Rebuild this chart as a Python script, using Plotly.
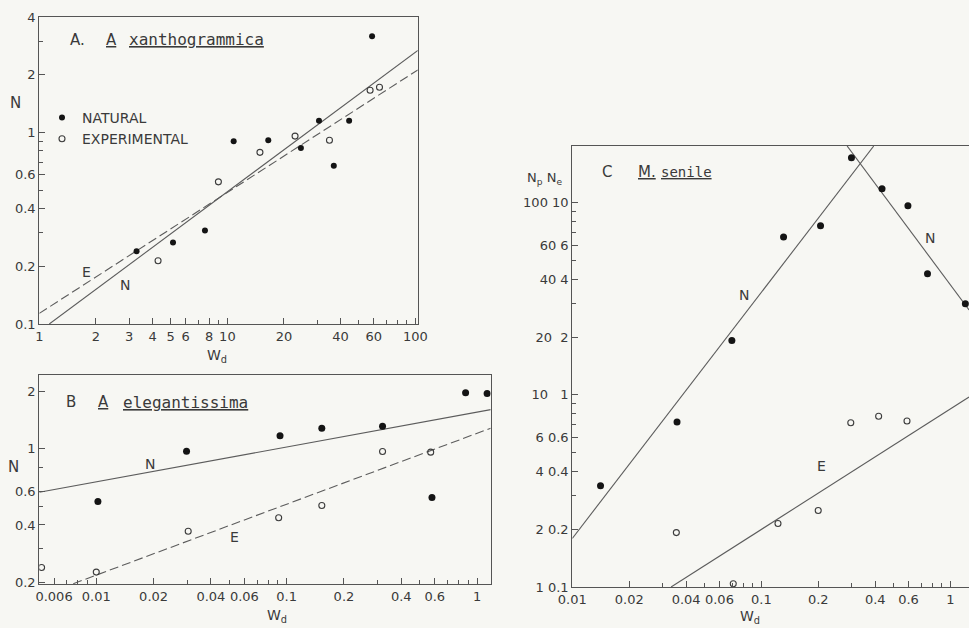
import numpy as np
import plotly.graph_objects as go

W, H = 969, 628

# ---------------- Panel A : A. xanthogrammica ----------------
a_nat_x = [3.29, 5.14, 7.6, 10.8, 16.5, 24.6, 30.7, 36.8, 44.4, 58.8]
a_nat_y = [0.24, 0.266, 0.308, 0.90, 0.91, 0.83, 1.15, 0.67, 1.15, 3.18]
a_exp_x = [4.28, 8.96, 14.9, 22.9, 34.9, 57.4, 64.4]
a_exp_y = [0.214, 0.552, 0.787, 0.957, 0.91, 1.66, 1.72]
a_fitN_x = [1.13, 103.0]
a_fitN_y = [0.1, 2.68]
a_fitE_x = [1.0, 103.0]
a_fitE_y = [0.1136, 2.12]
a_xticks = [1, 2, 3, 4, 5, 6, 8, 10, 20, 40, 60, 100]
a_xticktext = ["1", "2", "3", "4", "5", "6", "8", "10", "20", "40", "60", "100"]
a_xminor = [7, 9, 30, 50, 70, 80, 90]
a_yticks = [0.1, 0.2, 0.4, 0.6, 1, 2, 4]
a_yticktext = ["0.1", "0.2", "0.4", "0.6", "1", "2", "4"]
a_yminor = [0.3, 0.5, 0.7, 0.8, 0.9, 3]

# ---------------- Panel B : A. elegantissima ----------------
b_nat_x = [0.0102, 0.0298, 0.0923, 0.153, 0.319, 0.58, 0.871, 1.13]
b_nat_y = [0.53, 0.97, 1.17, 1.28, 1.31, 0.556, 1.96, 1.94]
b_exp_x = [0.00516, 0.01, 0.0304, 0.0908, 0.153, 0.319, 0.571]
b_exp_y = [0.24, 0.227, 0.371, 0.436, 0.506, 0.968, 0.96]
b_fitN_x = [0.00502, 1.18]
b_fitN_y = [0.593, 1.60]
b_fitE_x = [0.00757, 1.18]
b_fitE_y = [0.1975, 1.28]
b_xticks = [0.006, 0.01, 0.02, 0.04, 0.06, 0.1, 0.2, 0.4, 0.6, 1]
b_xticktext = ["0.006", "0.01", "0.02", "0.04", "0.06", "0.1", "0.2", "0.4", "0.6", "1"]
b_xminor = [0.007, 0.008, 0.009, 0.03, 0.05, 0.07, 0.08, 0.09, 0.3, 0.5, 0.7, 0.8, 0.9]
b_yticks = [0.2, 0.4, 0.6, 1, 2]
b_yticktext = ["0.2", "0.4", "0.6", "1", "2"]
b_yminor = [0.3, 0.5, 0.8]

# ---------------- Panel C : M. senile ----------------
c_nat_x = [0.0141, 0.0358, 0.0698, 0.131, 0.2055, 0.2995, 0.4345, 0.5957, 0.756, 1.199]
c_nat_Np = [3.37, 7.22, 19.2, 66.4, 76.1, 171.8, 118.3, 96.5, 42.7, 29.8]
c_exp_x = [0.0355, 0.071, 0.1224, 0.1998, 0.297, 0.417, 0.589]
c_exp_Ne = [0.192, 0.104, 0.214, 0.25, 0.717, 0.774, 0.731]
c_fitN1_x = [0.01, 0.393]
c_fitN1_Np = [1.79, 197.8]
c_fitN2_x = [0.284, 1.254]
c_fitN2_Np = [197.8, 27.7]
c_fitE_x = [0.0333, 1.254]
c_fitE_Ne = [0.1, 0.976]
NP_PER_NE = 10  # the two y scales (Np and Ne) differ by a factor of ten
c_xticks = [0.01, 0.02, 0.04, 0.06, 0.1, 0.2, 0.4, 0.6, 1]
c_xticktext = ["0.01", "0.02", "0.04", "0.06", "0.1", "0.2", "0.4", "0.6", "1"]
c_xminor = [0.03, 0.05, 0.07, 0.08, 0.09, 0.3, 0.5, 0.7, 0.8, 0.9]
c_yticks = [1, 2, 4, 6, 10, 20, 40, 60, 100]
c_yticktext = ["1 0.1", "2 0.2", "4 0.4", "6 0.6", "10   1", "20  2", "40 4", "60 6", "100 10"]
c_yminor = [3, 5, 7, 8, 9, 30, 50, 70, 80, 90]

FONT = "DejaVu Sans"
TFONT = "DejaVu Sans Mono"
TXT = "#3a3a3a"
LINE = "#555555"
BG = "#f7f7f3"

fig = go.Figure()


def px2x(p):
    return p / W


def px2y(p):
    return 1 - p / H


def add_panel(sfx, nx, ny, ex, ey, fits, legend=False, nsize=7, esize=6):
    xa = "x" + sfx
    ya = "y" + sfx
    for fx, fy, dash in fits:
        fig.add_trace(go.Scatter(x=fx, y=fy, mode="lines", xaxis=xa, yaxis=ya,
                                 line=dict(color="#5c5c5c", width=1.1, dash=dash),
                                 showlegend=False, hoverinfo="skip"))
    fig.add_trace(go.Scatter(x=nx, y=ny, mode="markers", xaxis=xa, yaxis=ya,
                             name="NATURAL", showlegend=legend,
                             marker=dict(symbol="circle", size=nsize, color="#141414")))
    fig.add_trace(go.Scatter(x=ex, y=ey, mode="markers", xaxis=xa, yaxis=ya,
                             name="EXPERIMENTAL", showlegend=legend,
                             marker=dict(symbol="circle-open", size=esize,
                                         color="#3c3c3c", line=dict(width=1.1))))


DASH = "9px,4px"
add_panel("", a_nat_x, a_nat_y, a_exp_x, a_exp_y,
          [(a_fitN_x, a_fitN_y, "solid"), (a_fitE_x, a_fitE_y, DASH)], legend=True,
          nsize=6, esize=6)
add_panel("2", b_nat_x, b_nat_y, b_exp_x, b_exp_y,
          [(b_fitN_x, b_fitN_y, "solid"), (b_fitE_x, b_fitE_y, DASH)], nsize=7, esize=6)
c_exp_plot = [v * NP_PER_NE for v in c_exp_Ne]
c_fitE_plot = [v * NP_PER_NE for v in c_fitE_Ne]
add_panel("3", c_nat_x, c_nat_Np, c_exp_x, c_exp_plot,
          [(c_fitN1_x, c_fitN1_Np, "solid"), (c_fitN2_x, c_fitN2_Np, "solid"),
           (c_fitE_x, c_fitE_plot, "solid")], nsize=7, esize=6)


def axis(dom, rng, tv, tt, minor, mirror=True, anchor=None):
    d = dict(type="log", domain=dom, range=rng, tickmode="array", tickvals=tv, ticktext=tt,
             ticks="inside", ticklen=6, tickwidth=1, tickcolor=LINE,
             showline=True, linecolor=LINE, linewidth=1.2, mirror=mirror,
             showgrid=False, zeroline=False, automargin=False,
             tickfont=dict(family=FONT, size=13, color=TXT),
             minor=dict(tickmode="array", tickvals=minor, ticks="inside", ticklen=4,
                        tickwidth=1, tickcolor=LINE, showgrid=False))
    if anchor:
        d["anchor"] = anchor
    return d


# pixel frames
A_fx, A_fy = (39.3, 417.7), (17, 324)
B_fx, B_fy = (39.3, 490.7), (375, 584)
C_fx, C_fy = (572.3, 969), (146, 587)

fig.update_layout(
    width=W, height=H, margin=dict(l=0, r=0, t=0, b=0, autoexpand=False),
    paper_bgcolor=BG, plot_bgcolor=BG,
    font=dict(family=FONT, color=TXT, size=13),
    xaxis=axis([px2x(A_fx[0]), px2x(A_fx[1])], [0, 2.012], a_xticks, a_xticktext, a_xminor, anchor="y"),
    yaxis=axis([px2y(A_fy[1]), px2y(A_fy[0])], [-1, 0.6025], a_yticks, a_yticktext, a_yminor, anchor="x"),
    xaxis2=axis([px2x(B_fx[0]), px2x(B_fx[1])], [np.log10(0.00502), np.log10(1.18)], b_xticks, b_xticktext, b_xminor, anchor="y2"),
    yaxis2=axis([px2y(B_fy[1]), px2y(B_fy[0])], [-0.706, 0.385], b_yticks, b_yticktext, b_yminor, anchor="x2"),
    xaxis3=axis([px2x(C_fx[0]), px2x(C_fx[1])], [-2, 0.098], c_xticks, c_xticktext, c_xminor, anchor="y3"),
    yaxis3=axis([px2y(C_fy[1]), px2y(C_fy[0])], [0, 2.296], c_yticks, c_yticktext, c_yminor, mirror=False, anchor="x3"),
    legend=dict(x=px2x(42), y=px2y(102), xanchor="left", yanchor="top",
                bgcolor="rgba(0,0,0,0)", font=dict(family=FONT, size=14, color=TXT),
                itemwidth=30, tracegroupgap=0),
    showlegend=True,
)

ann = []


def txt(x, y, s, size=14, xref="paper", yref="paper", xanchor="left", yanchor="middle",
        family=FONT):
    ann.append(dict(x=x, y=y, xref=xref, yref=yref, text=s, showarrow=False,
                    xanchor=xanchor, yanchor=yanchor,
                    font=dict(family=family, size=size, color=TXT)))


# Panel A texts
txt(px2x(68), px2y(40), "A.", 15)
txt(px2x(104), px2y(40), "<u>A</u>", 15)
txt(px2x(127), px2y(40), "<u>xanthogrammica</u>", 16, family=TFONT)
txt(px2x(15), px2y(103), "N", 15, xanchor="center")
txt(px2x(217), px2y(356), "W<sub>d</sub>", 14, xanchor="center")
txt(np.log10(1.79), np.log10(0.187), "E", 14, "x", "y", xanchor="center")
txt(np.log10(2.86), np.log10(0.16), "N", 14, "x", "y", xanchor="center")

# Panel B texts
txt(px2x(64), px2y(402), "B", 15)
txt(px2x(96), px2y(402), "<u>A</u>", 15)
txt(px2x(121), px2y(402), "<u>elegantissima</u>", 16, family=TFONT)
txt(px2x(13), px2y(467), "N", 15, xanchor="center")
txt(px2x(277), px2y(616), "W<sub>d</sub>", 14, xanchor="center")
txt(np.log10(0.0191), np.log10(0.834), "N", 14, "x2", "y2", xanchor="center")
txt(np.log10(0.0531), np.log10(0.347), "E", 14, "x2", "y2", xanchor="center")

# Panel C texts
txt(px2x(600), px2y(172), "C", 15)
txt(px2x(636), px2y(172), "<u>M.</u>", 15)
txt(px2x(659), px2y(172), "<u>senile</u>", 14, family=TFONT)
txt(px2x(525), px2y(178), "N<sub>p</sub> N<sub>e</sub>", 13)
txt(px2x(750), px2y(617), "W<sub>d</sub>", 14, xanchor="center")
txt(np.log10(0.081), np.log10(33.2), "N", 14, "x3", "y3", xanchor="center")
txt(np.log10(0.781), np.log10(65.6), "N", 14, "x3", "y3", xanchor="center")
txt(np.log10(0.208), np.log10(4.26), "E", 14, "x3", "y3", xanchor="center")

fig.update_layout(annotations=ann)
fig.write_html("out.html")
